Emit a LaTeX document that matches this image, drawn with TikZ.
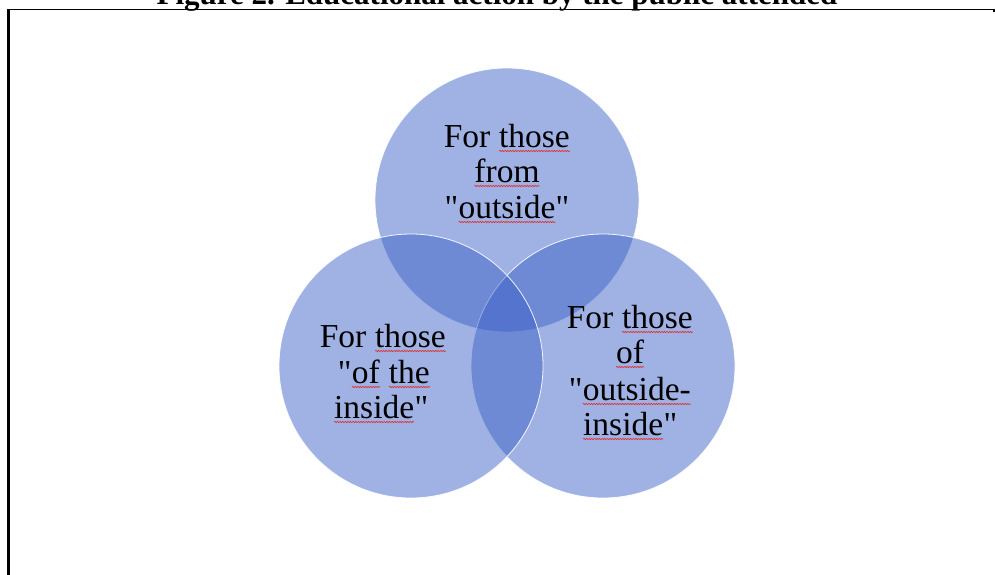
\documentclass[tikz,border=0pt]{standalone}
\usepackage{fontspec}
\setmainfont{Liberation Serif}
\newfontfamily\bodyfont{Liberation Serif}[Ligatures=ResetAll]
\usetikzlibrary{decorations.pathmorphing}
\definecolor{vblue}{RGB}{55,93,198}
\definecolor{wavered}{RGB}{225,50,50}
\newcommand\sq[1]{\tikz[baseline=(w.base)]{\node[inner sep=0pt,outer sep=0pt,anchor=base] (w) at (0,0) {#1};\draw[wavered,line width=0.7pt,decorate,decoration={snake,amplitude=0.6pt,segment length=2.6pt}] ([yshift=-4pt]w.base west) -- ([yshift=-4pt]w.base east);}}
\newcommand\dq{\char34\relax}
\tikzset{
  venn/.style={circle, minimum size=264pt, inner sep=0pt, fill=vblue, fill opacity=0.47, draw=white, draw opacity=0.9, line width=0.8pt},
  lbl/.style={anchor=base, inner sep=0pt, outer sep=0pt, text=black, font=\bodyfont\fontsize{33.5}{36}\selectfont},
  frametop/.style={draw=black, line width=1.5pt},
  frameleft/.style={draw=black, line width=2.2pt}
}
\begin{document}
\begin{tikzpicture}[x=1pt,y=-1pt]
\useasboundingbox (0,0) rectangle (995,575);
\clip (0,0) rectangle (995,575);
\fill[white] (0,0) rectangle (995,575);
% title (cut off at the top edge)
\node[anchor=base, inner sep=0pt, font=\bfseries\fontsize{31}{31}\selectfont] (title) at (497,5) {Figure 2. Educational action by the public attended};
% frame
\coordinate (ftl) at (8.5,9.5);
\coordinate (ftr) at (994,9.5);
\coordinate (fbl) at (8.5,580);
\draw[frametop] (ftl) -- (ftr);
\draw[frameleft] (ftl) -- (fbl);
\fill[black] (992.5,9) rectangle (995,12.5);
% circles
\node[venn] (ctop) at (507,200) {};
\node[venn] (cright) at (603,366) {};
\node[venn] (cleft) at (411,366) {};
% texts
\node[lbl] (t1) at (507,147) {For \sq{those}};
\node[lbl] (t2) at (507,182) {\sq{from}};
\node[lbl] (t3) at (507,218) {\dq\sq{outside}\dq};
\node[lbl] (l1) at (383,347) {For \sq{those}};
\node[lbl] (l2) at (384,383) {\dq\sq{of} \sq{the}};
\node[lbl] (l3) at (381,418) {\sq{inside}\dq};
\node[lbl] (r1) at (630,328) {For \sq{those}};
\node[lbl] (r2) at (630,363) {\sq{of}};
\node[lbl] (r3) at (630,400) {\dq\sq{outside-}};
\node[lbl] (r4) at (630,435) {\sq{inside}\dq};
\end{tikzpicture}
\end{document}
